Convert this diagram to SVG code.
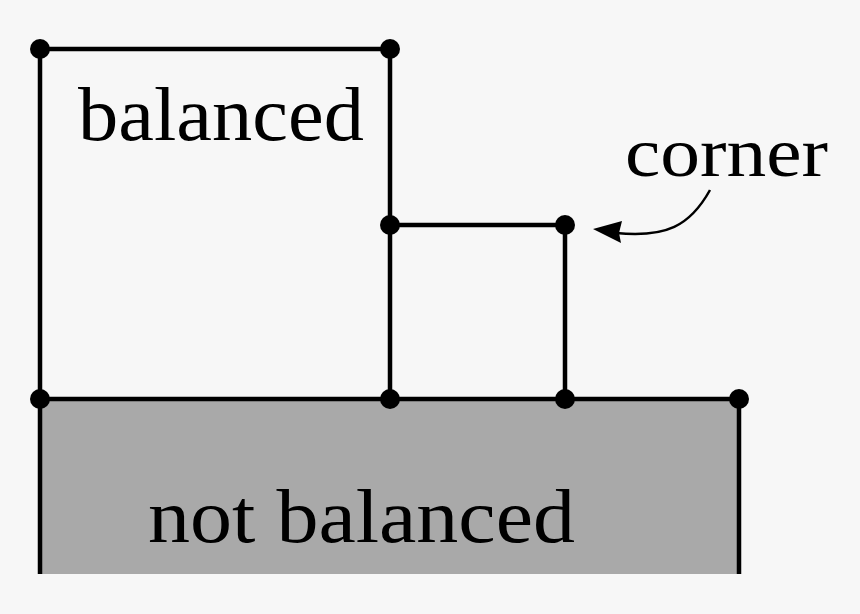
<svg xmlns="http://www.w3.org/2000/svg" width="860" height="614" viewBox="0 0 860 614">
<style>
.ln{stroke:#000;stroke-width:4.5;fill:none}
.dot{fill:#000}
.t{font-family:"Liberation Serif","DejaVu Serif",serif;fill:#000}
</style>
<rect width="860" height="614" fill="#f7f7f7"/>
<g id="not-balanced">
<rect x="40" y="399" width="699" height="175" fill="#a9a9a9"/>
<text class="t" x="148" y="542" font-size="76" textLength="427" lengthAdjust="spacingAndGlyphs">not balanced</text>
</g>
<g id="connectors">
<path class="ln" d="M40,574 V49 H390 V399"/>
<path class="ln" d="M390,225 H565 V399"/>
<path class="ln" d="M40,399 H739 V574"/>
<path d="M710,190 C690,226 666,238 616,233" stroke="#000" stroke-width="2.5" fill="none"/>
<path d="M593,229 L622,221 L619,233 L621,243 Z" fill="#000"/>
</g>
<g id="balanced">
<text class="t" x="78" y="140" font-size="76" textLength="286" lengthAdjust="spacingAndGlyphs">balanced</text>
</g>
<g id="corner">
<text class="t" x="625" y="176" font-size="70" textLength="203" lengthAdjust="spacingAndGlyphs">corner</text>
</g>
<g id="vertices">
<circle class="dot" cx="40" cy="49" r="10"/>
<circle class="dot" cx="390" cy="49" r="10"/>
<circle class="dot" cx="390" cy="225" r="10"/>
<circle class="dot" cx="565" cy="225" r="10"/>
<circle class="dot" cx="40" cy="399" r="10"/>
<circle class="dot" cx="390" cy="399" r="10"/>
<circle class="dot" cx="565" cy="399" r="10"/>
<circle class="dot" cx="739" cy="399" r="10"/>
</g>
</svg>
